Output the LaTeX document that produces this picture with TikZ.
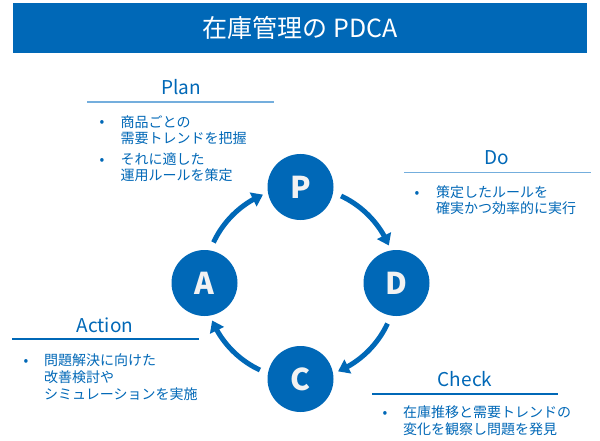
\documentclass[tikz,border=0pt]{standalone}
\usepackage{fontspec}
\setmainfont{Noto Sans CJK JP}
\usetikzlibrary{arrows.meta,bending,calc}
\definecolor{mainblue}{HTML}{0068B7}
\definecolor{lightline}{HTML}{74AEDD}
\definecolor{letterwhite}{HTML}{F2F2F2}
\tikzset{
  titlebar/.style={fill=mainblue,draw=none},
  phase/.style={circle,fill=mainblue,minimum size=66pt,inner sep=0pt,text=letterwhite,font=\bfseries\fontsize{30}{30}\selectfont},
  cyclearrow/.style={draw=mainblue,line width=5pt,-{Triangle[length=11pt,width=15pt,flex]}},
  heading/.style={text=mainblue,font=\fontsize{19}{19}\selectfont,inner sep=0pt},
  itemtext/.style={text=mainblue,font=\fontsize{14}{17}\selectfont,align=left,anchor=base west,inner sep=0pt},
  bulletmark/.style={text=mainblue,font=\fontsize{14}{17}\selectfont,anchor=base,inner sep=0pt},
  lightrule/.style={draw=lightline,line width=1.6pt},
  darkrule/.style={draw=mainblue,line width=1.1pt}
}
\begin{document}
\begin{tikzpicture}[x=1pt,y=1pt]
\useasboundingbox (0,0) rectangle (600,440);
\fill[white] (0,0) rectangle (600,440);
% title
\node[titlebar,minimum width=574pt,minimum height=50pt,anchor=south west] (bar) at (13,387) {};
\node[text=white,font=\fontsize{25}{25}\selectfont] (title) at (bar.center) {在庫管理の PDCA};
% cycle
\coordinate (O) at (300.5,157);
\node[phase] (P) at (300.5,253) {P};
\node[phase] (D) at (396.5,157) {D};
\node[phase] (C) at (300.5,61) {C};
\node[phase] (A) at (204.5,157) {A};
\draw[cyclearrow] ($(O)+(65:96pt)$) arc[start angle=65,end angle=23,radius=96pt];
\draw[cyclearrow] ($(O)+(335:96pt)$) arc[start angle=335,end angle=293,radius=96pt];
\draw[cyclearrow] ($(O)+(245:96pt)$) arc[start angle=245,end angle=203,radius=96pt];
\draw[cyclearrow] ($(O)+(155:96pt)$) arc[start angle=155,end angle=113,radius=96pt];
% Plan
\node[heading] (planh) at (181,352.5) {Plan};
\coordinate (planl1) at (87,338);
\coordinate (planl2) at (274,338);
\draw[lightrule] (planl1) -- (planl2);
\node[bulletmark] (planb1) at (102,313) {•};
\node[itemtext] (plant1) at (120.5,296) {商品ごとの\\需要トレンドを把握};
\node[bulletmark] (planb2) at (102,276) {•};
\node[itemtext] (plant2) at (120.5,259) {それに適した\\運用ルールを策定};
% Do
\node[heading] (doh) at (497,282) {Do};
\coordinate (dol1) at (404,267.5);
\coordinate (dol2) at (591,267.5);
\draw[lightrule] (dol1) -- (dol2);
\node[bulletmark] (dob1) at (417,243) {•};
\node[itemtext] (dot1) at (436,226) {策定したルールを\\確実かつ効率的に実行};
% Action
\node[heading] (acth) at (105,115) {Action};
\coordinate (actl1) at (12,101);
\coordinate (actl2) at (199,101);
\draw[darkrule] (actl1) -- (actl2);
\node[bulletmark] (actb1) at (26,75) {•};
\node[itemtext] (actt1) at (44,41) {問題解決に向けた\\改善検討や\\シミュレーションを実施};
% Check
\node[heading] (chkh) at (465,61) {Check};
\coordinate (chkl1) at (372,46);
\coordinate (chkl2) at (558,46);
\draw[darkrule] (chkl1) -- (chkl2);
\node[bulletmark] (chkb1) at (385,23) {•};
\node[itemtext] (chkt1) at (403,6) {在庫推移と需要トレンドの\\変化を観察し問題を発見};
\end{tikzpicture}
\end{document}
